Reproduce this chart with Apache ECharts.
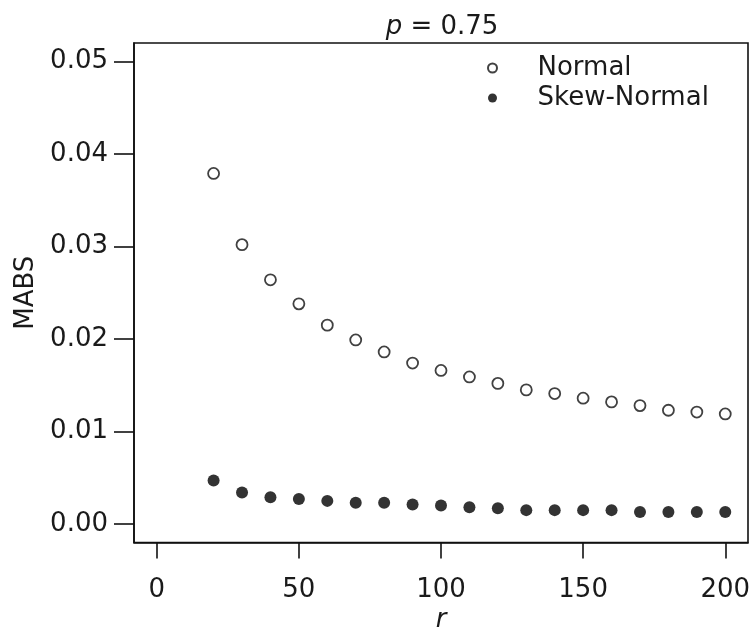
<!DOCTYPE html>
<html>
<head>
<meta charset="utf-8">
<script src="https://cdn.jsdelivr.net/npm/echarts@6/dist/echarts.min.js"></script>
<style>html,body{margin:0;padding:0;background:#fff;}#c{width:751px;height:627px;}</style>
</head>
<body>
<div id="c"></div>
<script>
var rValues = [20, 30, 40, 50, 60, 70, 80, 90, 100, 110, 120, 130, 140, 150, 160, 170, 180, 190, 200];
var normalMABS = [0.0379, 0.0302, 0.0264, 0.0238, 0.0215, 0.0199, 0.0186, 0.0174, 0.0166, 0.0159, 0.0152, 0.0145, 0.0141, 0.0136, 0.0132, 0.0128, 0.0123, 0.0121, 0.0119];
var skewMABS = [0.0047, 0.0034, 0.0029, 0.0027, 0.0025, 0.0023, 0.0023, 0.0021, 0.0020, 0.0018, 0.0017, 0.0015, 0.0015, 0.0015, 0.0015, 0.0013, 0.0013, 0.0013, 0.0013];
var xTicks = [0, 50, 100, 150, 200];
var yTicks = [0.00, 0.01, 0.02, 0.03, 0.04, 0.05];
var seriesNames = ['Normal', 'Skew-Normal'];

function pairs(xs, ys) { return xs.map(function (x, i) { return [x, ys[i]]; }); }

var FONT = 'DejaVu Sans';
var TXT = '#1a1a1a';
var chart = echarts.init(document.getElementById('c'), null, { renderer: 'canvas' });
chart.setOption({
  backgroundColor: '#ffffff',
  animation: false,
  title: {
    text: '{i|p} = 0.75',
    left: 437, top: 9, textAlign: 'center',
    textStyle: {
      fontFamily: FONT, fontSize: 26, fontWeight: 'normal', color: TXT,
      rich: { i: { fontFamily: FONT, fontSize: 26, fontStyle: 'italic', color: TXT } }
    }
  },
  grid: {
    left: 134, top: 43, right: 3, bottom: 84.5,
    outerBoundsMode: 'none', containLabel: false,
    show: true, borderColor: '#111', borderWidth: 1.6, backgroundColor: 'transparent'
  },
  legend: {
    orient: 'vertical', left: 482, top: 50,
    itemWidth: 80, itemHeight: 9, itemGap: 4,
    textStyle: { fontFamily: FONT, fontSize: 26, color: TXT },
    data: seriesNames
  },
  xAxis: {
    type: 'value', min: -8, max: 208,
    name: 'r', nameLocation: 'middle', nameGap: 65, nameMoveOverlap: false,
    nameTextStyle: { fontFamily: FONT, fontSize: 26, fontStyle: 'italic', color: TXT },
    splitLine: { show: false },
    axisLine: { show: true, onZero: false, lineStyle: { color: '#111', width: 1.6 } },
    axisTick: { show: true, inside: false, length: 16, lineStyle: { color: '#111', width: 1.6 }, customValues: xTicks },
    axisLabel: { fontFamily: FONT, fontSize: 26, color: TXT, margin: 35, verticalAlign: 'top', customValues: xTicks }
  },
  yAxis: {
    type: 'value', min: -0.002, max: 0.052,
    name: 'MABS', nameLocation: 'middle', nameGap: 93, nameRotate: 90,
    nameTextStyle: { fontFamily: FONT, fontSize: 26, color: TXT },
    splitLine: { show: false },
    axisLine: { show: true, onZero: false, lineStyle: { color: '#111', width: 1.6 } },
    axisTick: { show: true, inside: false, length: 20, lineStyle: { color: '#111', width: 1.6 }, customValues: yTicks },
    axisLabel: { fontFamily: FONT, fontSize: 26, color: TXT, margin: 26, customValues: yTicks,
      formatter: function (v) { return v.toFixed(2); } }
  },
  series: [
    {
      name: seriesNames[0], type: 'scatter', symbol: 'circle', symbolSize: 11,
      itemStyle: { color: '#ffffff', borderColor: '#111', borderWidth: 1.8 },
      data: pairs(rValues, normalMABS)
    },
    {
      name: seriesNames[1], type: 'scatter', symbol: 'circle', symbolSize: 12,
      itemStyle: { color: '#000000', borderColor: '#000', borderWidth: 0 },
      data: pairs(rValues, skewMABS)
    }
  ]
});
</script>
</body>
</html>
